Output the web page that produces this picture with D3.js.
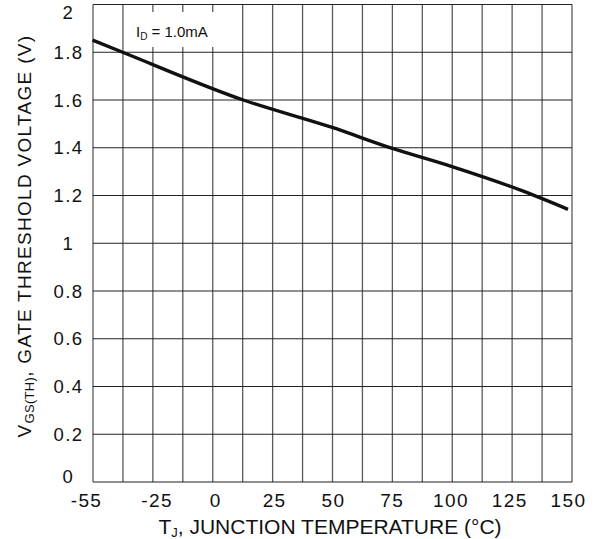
<!DOCTYPE html>
<html>
<head>
<meta charset="utf-8">
<script src="https://cdn.jsdelivr.net/npm/d3@7/dist/d3.min.js"></script>
<style>
  html, body { margin: 0; padding: 0; background: #fff; }
  svg { display: block; font-family: "Liberation Sans", Arial, Helvetica, sans-serif; }
</style>
</head>
<body>
<svg id="chart" width="600" height="539"></svg>
<script>
// ---- data ----
const tempC = [-55, -42, 10, 48, 75, 100, 131, 150];
const vgsTh = [1.851, 1.800, 1.600, 1.486, 1.395, 1.321, 1.217, 1.142];
const xTickValues = [-55, -25, 0, 25, 50, 75, 100, 125, 150];
const xTickLabels = ["-55", "-25", "0", "25", "50", "75", "100", "125", "150"];
const yTickValues = [0, 0.2, 0.4, 0.6, 0.8, 1, 1.2, 1.4, 1.6, 1.8, 2];
const yTickLabels = ["0", "0.2", "0.4", "0.6", "0.8", "1", "1.2", "1.4", "1.6", "1.8", "2"];
const gridColumns = 16;

// ---- layout ----
const L = 93, R = 572, T = 4.5, B = 482;
const svg = d3.select("#chart");

const x = d3.scaleLinear().domain([-55, 150]).range([92.5, 568]);
const xLabel = d3.scaleLinear().domain([-55, 150]).range([86, 568]);
const xGrid = d3.scaleLinear().domain([0, gridColumns]).range([L, R]);
const y = d3.scaleLinear().domain([0, 2]).range([B, T]);

// vertical grid
svg.append("g").selectAll("line").data(d3.range(gridColumns + 1)).join("line")
  .attr("x1", d => xGrid(d)).attr("x2", d => xGrid(d))
  .attr("y1", T).attr("y2", B)
  .attr("stroke", "#5a5a5a").attr("stroke-width", 1.3);

// horizontal grid
svg.append("g").selectAll("line").data(yTickValues).join("line")
  .attr("x1", L).attr("x2", R)
  .attr("y1", d => y(d)).attr("y2", d => y(d))
  .attr("stroke", "#222").attr("stroke-width", 1.2);

// annotation box (white background)
svg.append("rect")
  .attr("x", 124.5).attr("y", 12).attr("width", 117).attr("height", 35)
  .attr("fill", "#fff");

// curve
const line = d3.line().x((d, i) => x(tempC[i])).y(d => y(d)).curve(d3.curveMonotoneX);
svg.append("path")
  .attr("d", line(vgsTh))
  .attr("fill", "none").attr("stroke", "#111").attr("stroke-width", 3.4)
  .attr("stroke-linejoin", "round");

// annotation text
const ann = svg.append("text").attr("x", 136).attr("y", 37)
  .attr("font-size", 15).attr("fill", "#111");
ann.append("tspan").text("I");
ann.append("tspan").attr("font-size", 10).attr("dy", 3).text("D");
ann.append("tspan").attr("dy", -3).text(" = 1.0mA");

// y tick labels
svg.append("g").selectAll("text").data(yTickValues).join("text")
  .attr("x", 68.5)
  .attr("y", d => Math.max(12.5, Math.min(476.5, y(d))))
  .attr("dy", "0.36em")
  .attr("text-anchor", "middle")
  .attr("font-size", 18.5).attr("letter-spacing", 1.5)
  .attr("fill", "#111")
  .text((d, i) => yTickLabels[i]);

// x axis labels via d3 axis
const xAxis = d3.axisBottom(xLabel).tickValues(xTickValues)
  .tickFormat((d, i) => xTickLabels[i]).tickSize(0).tickPadding(0);
const gx = svg.append("g").attr("transform", `translate(0,${B})`).call(xAxis);
gx.select(".domain").remove();
gx.selectAll("text")
  .attr("y", 25).attr("dy", 0)
  .attr("font-size", 19).attr("letter-spacing", 1.4)
  .attr("font-family", "Liberation Sans, Arial, sans-serif")
  .attr("fill", "#111");

// x title
const xt = svg.append("text").attr("x", 330).attr("y", 534)
  .attr("text-anchor", "middle").attr("font-size", 21).attr("fill", "#111");
xt.append("tspan").text("T");
xt.append("tspan").attr("font-size", 13).attr("dy", 3).text("J");
xt.append("tspan").attr("dy", -3).text(", JUNCTION TEMPERATURE (°C)");

// y title
const yt = svg.append("text")
  .attr("transform", "translate(31,236) rotate(-90)")
  .attr("text-anchor", "middle").attr("font-size", 19).attr("letter-spacing", 1.3)
  .attr("fill", "#111");
yt.append("tspan").text("V");
yt.append("tspan").attr("font-size", 13).attr("letter-spacing", 0.3).attr("dy", 3).text("GS(TH)");
yt.append("tspan").attr("dy", -3).text(", GATE THRESHOLD VOLTAGE (V)");
</script>
</body>
</html>
